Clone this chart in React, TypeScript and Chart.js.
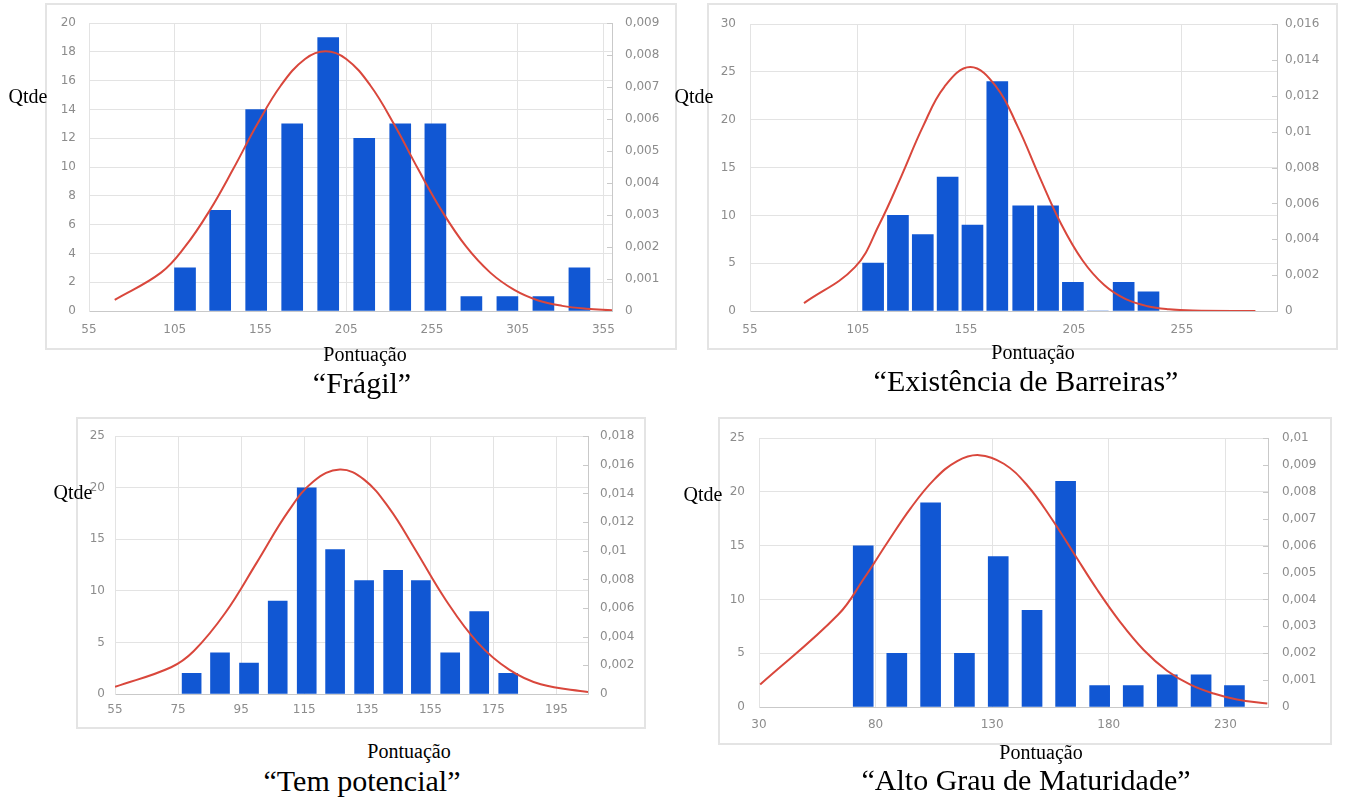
import React, { useEffect, useRef } from "react";
import { Chart, registerables } from "chart.js";

Chart.register(...registerables);

// ---------------- Data: "Frágil" ----------------
const fragilBins = [111, 131.5, 152.5, 173.5, 194.5, 215.5, 236.5, 257, 278, 299, 320, 341];
const fragilCounts = [3, 7, 14, 13, 19, 12, 13, 13, 1, 1, 1, 3];
const fragilCurveX = [70, 97, 111, 125, 139, 153, 167, 181, 193, 205, 219, 233, 247, 261, 275, 289, 303, 317, 331, 345, 360];
const fragilCurveY = [0.00035, 0.0012, 0.00201, 0.00311, 0.00443, 0.00583, 0.00706, 0.00788, 0.00812, 0.00788, 0.00706, 0.00583, 0.00443, 0.00311, 0.00201, 0.0012, 0.00066, 0.00033, 0.00016, 0.00007, 0.00002];
const fragilXTicks = [55, 105, 155, 205, 255, 305, 355];
const fragilYTicks = [0, 2, 4, 6, 8, 10, 12, 14, 16, 18, 20];
const fragilY2Ticks = [0, 0.001, 0.002, 0.003, 0.004, 0.005, 0.006, 0.007, 0.008, 0.009];

// ---------------- Data: "Existência de Barreiras" ----------------
const barreirasBins = [112, 123.5, 135, 146.5, 158, 169.5, 181.5, 193, 204.5, 216, 228, 239.5];
const barreirasCounts = [5, 10, 8, 14, 9, 24, 11, 11, 3, 0, 3, 2];
const barreirasCurveX = [80, 103.6, 115, 125, 135, 145, 157, 169, 179, 189, 199, 209, 219, 229, 239, 249, 260, 289];
const barreirasCurveY = [0.00044, 0.00245, 0.00487, 0.0075, 0.01027, 0.01251, 0.01361, 0.01251, 0.01027, 0.0075, 0.00487, 0.00282, 0.00145, 0.00066, 0.00027, 0.0001, 0.00003, 0.0];
const barreirasXTicks = [55, 105, 155, 205, 255];
const barreirasYTicks = [0, 5, 10, 15, 20, 25, 30];
const barreirasY2Ticks = [0, 0.002, 0.004, 0.006, 0.008, 0.01, 0.012, 0.014, 0.016];

// ---------------- Data: "Tem potencial" ----------------
const potencialBins = [79.3, 88.3, 97.5, 106.6, 115.8, 124.8, 134, 143.2, 152, 161.3, 170.5, 179.7];
const potencialCounts = [2, 4, 3, 9, 20, 14, 11, 12, 11, 4, 8, 2];
const potencialCurveX = [55, 72.8, 80, 90, 100, 110, 118, 126.3, 134, 142, 150, 160, 170, 180, 190, 205];
const potencialCurveY = [0.0005, 0.00187, 0.003, 0.00567, 0.00919, 0.01277, 0.01486, 0.01567, 0.01497, 0.01296, 0.01016, 0.00653, 0.00359, 0.0017, 0.00068, 0.00013];
const potencialXTicks = [55, 75, 95, 115, 135, 155, 175, 195];
const potencialYTicks = [0, 5, 10, 15, 20, 25];
const potencialY2Ticks = [0, 0.002, 0.004, 0.006, 0.008, 0.01, 0.012, 0.014, 0.016, 0.018];

// ---------------- Data: "Alto Grau de Maturidade" ----------------
const maturidadeBins = [74.7, 89.1, 103.6, 118.1, 132.6, 147.1, 161.5, 176.1, 190.5, 205.1, 219.6, 233.9];
const maturidadeCounts = [15, 5, 19, 5, 14, 9, 21, 2, 2, 3, 3, 2];
const maturidadeCurveX = [30.5, 64, 75, 85, 95, 105, 115, 124.4, 135, 145, 155, 165, 175, 185, 195, 205, 215, 225, 235, 248];
const maturidadeCurveY = [0.00084, 0.00344, 0.00478, 0.00611, 0.00739, 0.00845, 0.00915, 0.00937, 0.00905, 0.00825, 0.00707, 0.00572, 0.00437, 0.00315, 0.00212, 0.00135, 0.00083, 0.0005, 0.00028, 0.00013];
const maturidadeXTicks = [30, 80, 130, 180, 230];
const maturidadeYTicks = [0, 5, 10, 15, 20, 25];
const maturidadeY2Ticks = [0, 0.001, 0.002, 0.003, 0.004, 0.005, 0.006, 0.007, 0.008, 0.009, 0.01];

// ---------------- Styles ----------------
const BLUE = "#1157d3";
const RED = "#d9473c";
const GRID = "#e3e3e3";
const BASE = "#c9c9c9";
const TICK_COLOR = "#8c8c8c";
const TICK_FONT = { family: "'DejaVu Sans', Arial, sans-serif", size: 12 };
const SERIF = "'Liberation Serif', 'Times New Roman', serif";

const fmtComma = (v: number) => String(parseFloat(Number(v).toFixed(4))).replace(".", ",");

const stubPlugin = {
  id: "y2stubs",
  afterDraw(chart: any) {
    const s = chart.scales.y2;
    if (!s) return;
    const ctx = chart.ctx;
    ctx.save();
    ctx.strokeStyle = BASE;
    ctx.lineWidth = 1;
    s.ticks.forEach((_t: any, i: number) => {
      const y = Math.round(s.getPixelForTick(i)) + 0.5;
      ctx.beginPath();
      ctx.moveTo(s.left - 5, y);
      ctx.lineTo(s.left, y);
      ctx.stroke();
    });
    ctx.restore();
  },
};

type Spec = {
  bins: number[];
  counts: number[];
  curveX: number[];
  curveY: number[];
  xTicks: number[];
  yTicks: number[];
  y2Ticks: number[];
  xMin: number;
  xMax: number;
  yMax: number;
  y2Max: number;
  left: number;
  top: number;
  width: number;
  height: number;
  axisLeft: number;
  axisRight: number;
  axisBottom: number;
  padTop: number;
  yPad: number;
  y2Pad: number;
  xPad: number;
  barThickness: number;
};

function HistogramPanel({ spec }: { spec: Spec }) {
  const ref = useRef<HTMLCanvasElement>(null);
  useEffect(() => {
    const canvas = ref.current;
    if (!canvas) return;
    const chart = new Chart(canvas, {
      type: "bar",
      data: {
        datasets: [
          {
            type: "line",
            data: spec.curveX.map((x, i) => ({ x, y: spec.curveY[i] })),
            xAxisID: "x",
            yAxisID: "y2",
            borderColor: RED,
            borderWidth: 2,
            pointRadius: 0,
            tension: 0.4,
            fill: false,
            order: 0,
          } as any,
          {
            type: "bar",
            data: spec.bins.map((x, i) => ({ x, y: spec.counts[i] })),
            xAxisID: "x",
            yAxisID: "y",
            backgroundColor: BLUE,
            borderWidth: 0,
            barThickness: spec.barThickness,
            order: 1,
          } as any,
        ],
      },
      options: {
        responsive: false,
        animation: false,
        events: [],
        layout: { padding: { top: spec.padTop, left: 0, right: 0, bottom: 0 } },
        plugins: {
          legend: { display: false },
          tooltip: { enabled: false },
          title: { display: false },
        },
        scales: {
          x: {
            type: "linear",
            min: spec.xMin,
            max: spec.xMax,
            offset: false,
            grid: { offset: false, color: GRID, drawTicks: false, lineWidth: 1 },
            border: { display: true, color: BASE, width: 1 },
            ticks: {
              padding: spec.xPad,
              font: TICK_FONT,
              color: TICK_COLOR,
              autoSkip: false,
              maxRotation: 0,
              callback: (v: any) => String(v),
            },
            afterBuildTicks: (a: any) => {
              a.ticks = spec.xTicks.map((v) => ({ value: v }));
            },
            afterFit: (a: any) => {
              a.height = spec.axisBottom;
            },
          } as any,
          y: {
            type: "linear",
            position: "left",
            min: 0,
            max: spec.yMax,
            grid: {
              color: (c: any) => (c.tick && c.tick.value === 0 ? BASE : GRID),
              drawTicks: false,
              lineWidth: 1,
            },
            border: { display: true, color: GRID, width: 1 },
            ticks: {
              padding: spec.yPad,
              font: TICK_FONT,
              color: TICK_COLOR,
              autoSkip: false,
              callback: (v: any) => String(v),
            },
            afterBuildTicks: (a: any) => {
              a.ticks = spec.yTicks.map((v) => ({ value: v }));
            },
            afterFit: (a: any) => {
              a.width = spec.axisLeft;
            },
          } as any,
          y2: {
            type: "linear",
            position: "right",
            min: 0,
            max: spec.y2Max,
            grid: { drawOnChartArea: false, drawTicks: false },
            border: { display: true, color: BASE, width: 1 },
            ticks: {
              padding: spec.y2Pad,
              font: TICK_FONT,
              color: TICK_COLOR,
              autoSkip: false,
              callback: (v: any) => fmtComma(v),
            },
            afterBuildTicks: (a: any) => {
              a.ticks = spec.y2Ticks.map((v) => ({ value: v }));
            },
            afterFit: (a: any) => {
              a.width = spec.axisRight;
            },
          } as any,
        },
      },
      plugins: [stubPlugin],
    });
    return () => chart.destroy();
  }, [spec]);

  return (
    <>
      <div
        style={{
          position: "absolute",
          left: spec.left,
          top: spec.top,
          width: spec.width,
          height: spec.height,
          border: "2px solid #e4e4e4",
          boxSizing: "border-box",
        }}
      />
      <canvas
        ref={ref}
        width={spec.width}
        height={spec.height}
        style={{ position: "absolute", left: spec.left, top: spec.top, width: spec.width, height: spec.height }}
      />
    </>
  );
}

function Label({ x, y, size, children }: { x: number; y: number; size: number; children: React.ReactNode }) {
  return (
    <div
      style={{
        position: "absolute",
        left: x,
        top: y,
        transform: "translate(-50%, -50%)",
        fontFamily: SERIF,
        fontSize: size,
        lineHeight: 1,
        whiteSpace: "nowrap",
        color: "#000",
      }}
    >
      {children}
    </div>
  );
}

const specFragil: Spec = {
  bins: fragilBins, counts: fragilCounts, curveX: fragilCurveX, curveY: fragilCurveY,
  xTicks: fragilXTicks, yTicks: fragilYTicks, y2Ticks: fragilY2Ticks,
  xMin: 55, xMax: 360, yMax: 20, y2Max: 0.009,
  left: 45, top: 3, width: 632, height: 347,
  axisLeft: 44, axisRight: 65, axisBottom: 39, padTop: 15,
  yPad: 13, y2Pad: 13, xPad: 12, barThickness: 21,
};

const specBarreiras: Spec = {
  bins: barreirasBins, counts: barreirasCounts, curveX: barreirasCurveX, curveY: barreirasCurveY,
  xTicks: barreirasXTicks, yTicks: barreirasYTicks, y2Ticks: barreirasY2Ticks,
  xMin: 55, xMax: 299, yMax: 30, y2Max: 0.016,
  left: 707, top: 3, width: 631, height: 347,
  axisLeft: 43, axisRight: 61, axisBottom: 39, padTop: 15,
  yPad: 14, y2Pad: 8, xPad: 12, barThickness: 21,
};

const specPotencial: Spec = {
  bins: potencialBins, counts: potencialCounts, curveX: potencialCurveX, curveY: potencialCurveY,
  xTicks: potencialXTicks, yTicks: potencialYTicks, y2Ticks: potencialY2Ticks,
  xMin: 55, xMax: 205, yMax: 25, y2Max: 0.018,
  left: 76, top: 417, width: 570, height: 312,
  axisLeft: 39, axisRight: 58, axisBottom: 35, padTop: 14,
  yPad: 10, y2Pad: 12, xPad: 9, barThickness: 19,
};

const specMaturidade: Spec = {
  bins: maturidadeBins, counts: maturidadeCounts, curveX: maturidadeCurveX, curveY: maturidadeCurveY,
  xTicks: maturidadeXTicks, yTicks: maturidadeYTicks, y2Ticks: maturidadeY2Ticks,
  xMin: 30, xMax: 248.3, yMax: 25, y2Max: 0.01,
  left: 718, top: 417, width: 614, height: 328,
  axisLeft: 41, axisRight: 64, axisBottom: 38, padTop: 8,
  yPad: 14, y2Pad: 14, xPad: 11, barThickness: 20,
};

export default function App() {
  return (
    <div
      style={{
        position: "absolute",
        left: 0,
        top: 0,
        width: 1345,
        height: 798,
        overflow: "hidden",
        background: "#fff",
      }}
    >
      <HistogramPanel spec={specFragil} />
      <HistogramPanel spec={specBarreiras} />
      <HistogramPanel spec={specPotencial} />
      <HistogramPanel spec={specMaturidade} />

      <Label x={28} y={96} size={20}>Qtde</Label>
      <Label x={694} y={96} size={20}>Qtde</Label>
      <Label x={73} y={492} size={20}>Qtde</Label>
      <Label x={703} y={494} size={20}>Qtde</Label>

      <Label x={365} y={354} size={20}>Pontuação</Label>
      <Label x={1033} y={352} size={20}>Pontuação</Label>
      <Label x={409} y={751} size={20}>Pontuação</Label>
      <Label x={1041} y={752} size={20}>Pontuação</Label>

      <Label x={362} y={383} size={30}>“Frágil”</Label>
      <Label x={1026} y={381} size={30}>“Existência de Barreiras”</Label>
      <Label x={362} y={781} size={30}>“Tem potencial”</Label>
      <Label x={1026} y={780} size={30}>“Alto Grau de Maturidade”</Label>
    </div>
  );
}
